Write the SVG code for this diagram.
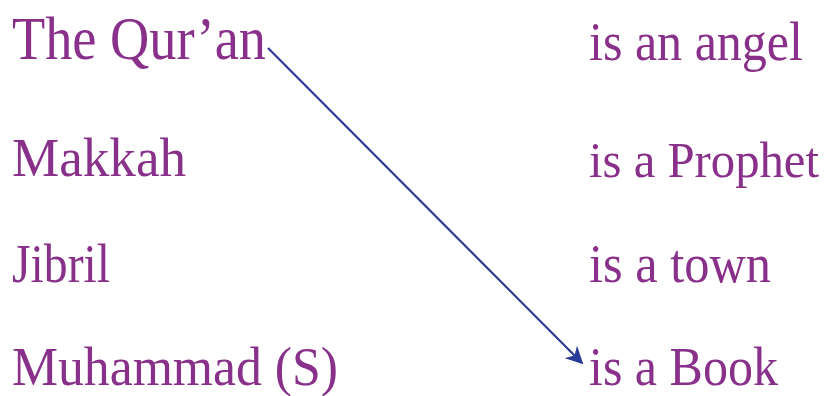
<svg xmlns="http://www.w3.org/2000/svg" width="832" height="396" viewBox="0 0 832 396">
<style>
.t{font-family:"Liberation Serif","Times New Roman",serif;font-size:54px;fill:#88308A}
.big{font-size:62px}
.fit{font-size:50px}
.c{stroke:#2B3A97;stroke-width:2.2;fill:none}
</style>
<defs>
<marker id="ah" viewBox="0 0 10 10" refX="9" refY="5" markerWidth="8" markerHeight="8" orient="auto" markerUnits="strokeWidth">
<path d="M0,0 L10,5 L0,10 L3,5 Z" fill="#2B3A97"/>
</marker>
</defs>
<rect width="832" height="396" fill="#fff"/>
<g id="left-quran"><text class="t big" x="12" y="59" textLength="254" lengthAdjust="spacingAndGlyphs">The Qur’an</text></g>
<g id="left-makkah"><text class="t" x="12" y="176" textLength="174" lengthAdjust="spacingAndGlyphs">Makkah</text></g>
<g id="left-jibril"><text class="t" x="12" y="282" textLength="98" lengthAdjust="spacingAndGlyphs">Jibril</text></g>
<g id="left-muhammad"><text class="t" x="12" y="385" textLength="326" lengthAdjust="spacingAndGlyphs">Muhammad (S)</text></g>
<g id="right-angel"><text class="t" x="589" y="60" textLength="214" lengthAdjust="spacingAndGlyphs">is an angel</text></g>
<g id="right-prophet"><text class="t fit" x="589" y="177" textLength="230" lengthAdjust="spacingAndGlyphs">is a Prophet</text></g>
<g id="right-town"><text class="t" x="589" y="282" textLength="182" lengthAdjust="spacingAndGlyphs">is a town</text></g>
<g id="right-book"><text class="t" x="589" y="385" textLength="189" lengthAdjust="spacingAndGlyphs">is a Book</text></g>
<g id="connectors">
<line class="c" x1="268" y1="48" x2="582" y2="363" marker-end="url(#ah)"/>
</g>
</svg>
